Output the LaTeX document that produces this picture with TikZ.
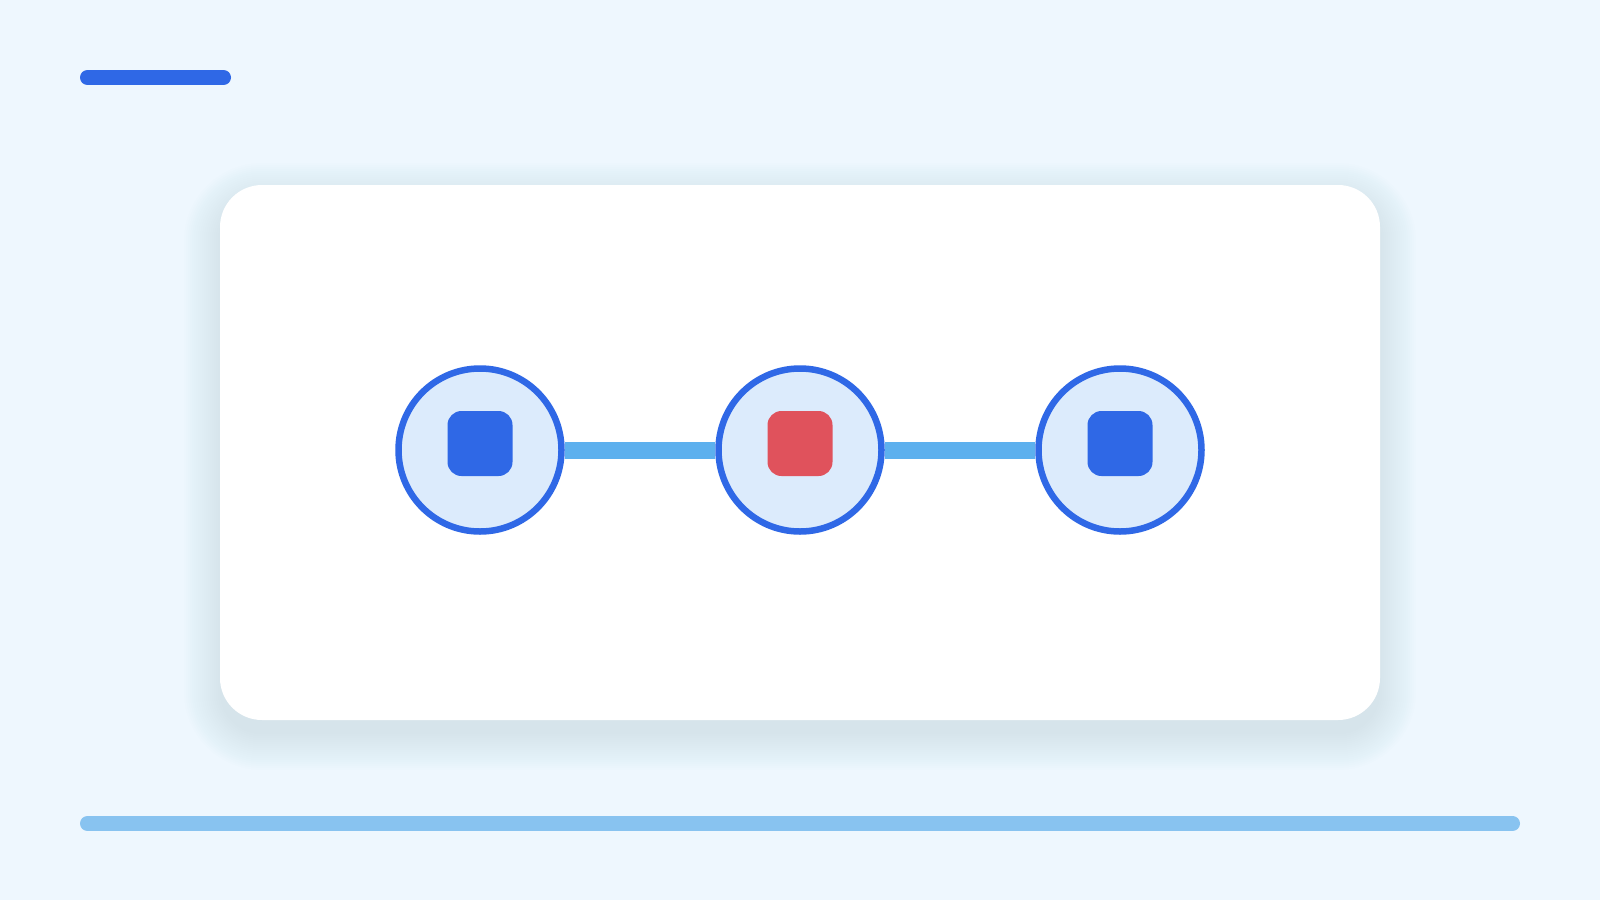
\documentclass[tikz,border=0pt]{standalone}
\definecolor{bgc}{HTML}{EEF7FE}
\definecolor{mainblue}{HTML}{2F68E6}
\definecolor{circfill}{HTML}{DCEBFC}
\definecolor{redsq}{HTML}{E0525C}
\definecolor{linkc}{HTML}{5DB0EE}
\definecolor{barlight}{HTML}{88C3F0}
\definecolor{shadowc}{HTML}{8FA6C2}
\tikzset{
  hub/.style={circle, draw=mainblue, fill=circfill, line width=6.5pt, minimum size=163pt, inner sep=0pt},
  chip/.style={rectangle, minimum size=65pt, inner sep=0pt, outer sep=0pt},
  chipfill/.style={rounded corners=14pt},
  link/.style={draw=linkc, line width=17pt},
  bar/.style={line width=15pt, line cap=round}
}
\begin{document}
\begin{tikzpicture}[x=1pt,y=-1pt]
\fill[bgc] (0,0) rectangle (1600,900);
\useasboundingbox (0,0) rectangle (1600,900);
% top accent bar
\coordinate (t1) at (87.5,77.5);
\coordinate (t2) at (223.5,77.5);
\draw[bar, mainblue] (t1) -- (t2);
% bottom bar
\coordinate (b1) at (87.5,823.5);
\coordinate (b2) at (1512.5,823.5);
\draw[bar, barlight] (b1) -- (b2);
% card shadow
\foreach \i in {0,...,18}{
  \pgfmathsetmacro{\rr}{42+2*\i}
  \fill[shadowc, opacity=0.011, rounded corners=\rr pt] (220-2*\i,199-2*\i) rectangle (1380+2*\i,734+2*\i);
}
% card
\fill[white, rounded corners=42pt] (220,185) rectangle (1380,720);
% hubs
\node[hub] (c1) at (480,450) {};
\node[hub] (c2) at (800,450) {};
\node[hub] (c3) at (1120,450) {};
\draw[link] (c1) -- (c2);
\draw[link] (c2) -- (c3);
\node[chip] (s1) at (480,443.5) {};
\node[chip] (s2) at (800,443.5) {};
\node[chip] (s3) at (1120,443.5) {};
\fill[chipfill, mainblue] (s1.south west) rectangle (s1.north east);
\fill[chipfill, redsq] (s2.south west) rectangle (s2.north east);
\fill[chipfill, mainblue] (s3.south west) rectangle (s3.north east);
\end{tikzpicture}
\end{document}
